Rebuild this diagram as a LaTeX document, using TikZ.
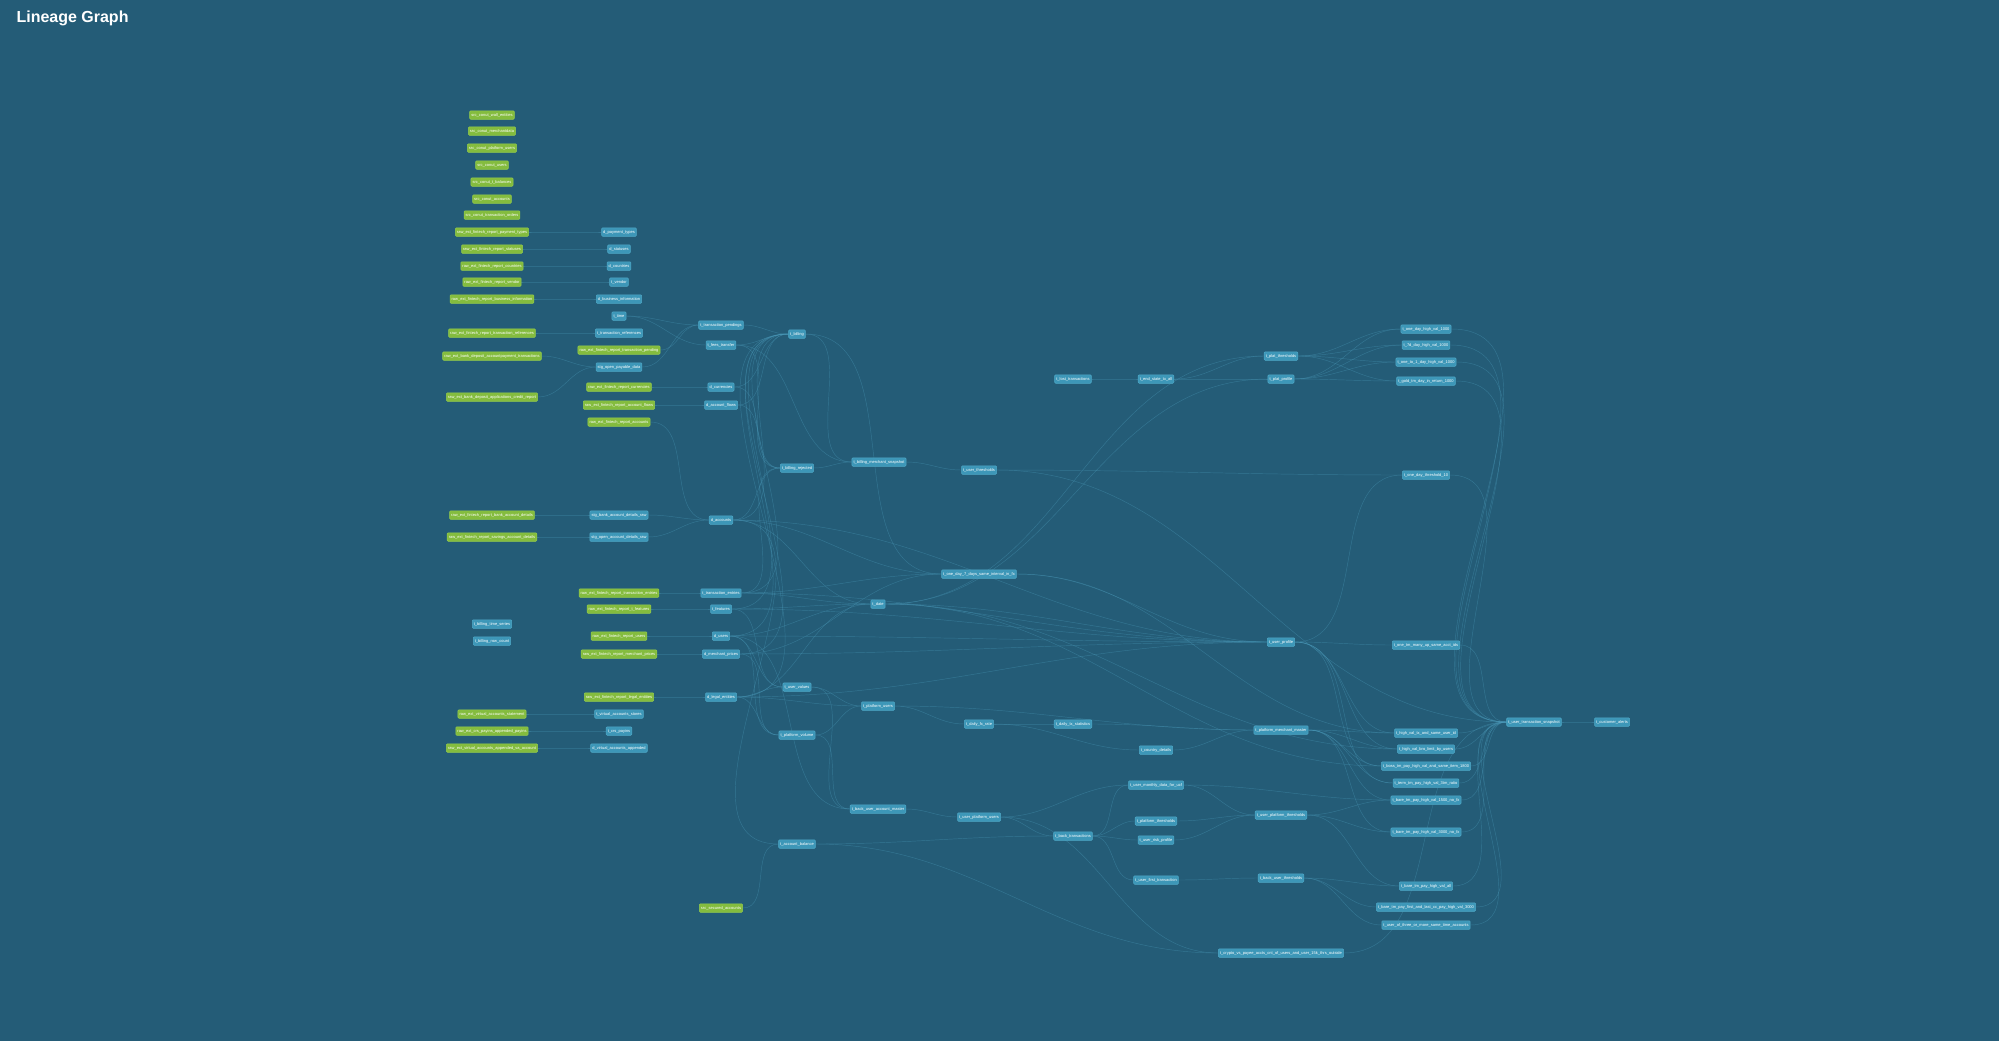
\documentclass[tikz,border=0pt]{standalone}
\usepackage{fontspec}
\newfontfamily\lgfont{Liberation Sans}
\definecolor{bgc}{HTML}{245C77}
\definecolor{nodeblue}{HTML}{3D97B8}
\definecolor{nodeblueb}{HTML}{4FA9C8}
\definecolor{nodegreen}{HTML}{84BC3E}
\definecolor{nodegreenb}{HTML}{96CE4E}
\definecolor{edgec}{HTML}{4C9BBB}
\newcommand\lgnodefont{\lgfont\fontsize{4}{4.5}\selectfont}
\newcommand\lglink[2]{\draw[lnk] (#1.east) to[out=0,in=180] (#2.west);}
\pgfdeclarelayer{bgl}
\pgfdeclarelayer{edl}
\pgfsetlayers{bgl,edl,main}
\tikzset{
  nd/.style={rounded corners=1pt, text=white, font=\lgnodefont, inner xsep=1.6pt, inner ysep=0pt,
    minimum height=8.5pt, text height=2.9pt, text depth=0.9pt, line width=0.5pt},
  bn/.style={nd, fill=nodeblue, draw=nodeblueb},
  gn/.style={nd, fill=nodegreen, draw=nodegreenb},
  lnk/.style={draw=edgec, line width=0.45pt, opacity=0.42},
}
\begin{document}
\begin{tikzpicture}[x=1pt,y=-1pt]
\begin{pgfonlayer}{bgl}
\fill[bgc] (0,0) rectangle (1999,1041);
\end{pgfonlayer}
\useasboundingbox (0,0) rectangle (1999,1041);
\node[anchor=west, text=white, font=\lgfont\bfseries\fontsize{16}{19}\selectfont] (title) at (13,18) {Lineage Graph};
% column A
\node[gn] (gA1) at (492,115) {src\_conut\_wall\_entities};
\node[gn] (gA2) at (492,131) {src\_conut\_merchantdata};
\node[gn] (gA3) at (492,148) {src\_conut\_platform\_users};
\node[gn] (gA4) at (492,165) {src\_conut\_users};
\node[gn] (gA5) at (492,182) {src\_conut\_t\_balances};
\node[gn] (gA6) at (492,199) {src\_conut\_accounts};
\node[gn] (gA7) at (492,215) {src\_conut\_transaction\_orders};
\node[gn] (gA8) at (492,232) {raw\_ext\_fintech\_report\_payment\_types};
\node[gn] (gA9) at (492,249) {raw\_ext\_fintech\_report\_statuses};
\node[gn] (gA10) at (492,266) {raw\_ext\_fintech\_report\_countries};
\node[gn] (gA11) at (492,282) {raw\_ext\_fintech\_report\_vendor};
\node[gn] (gA12) at (492,299) {raw\_ext\_fintech\_report\_business\_information};
\node[gn] (gA14) at (492,333) {raw\_ext\_fintech\_report\_transaction\_references};
\node[gn] (gA16) at (492,356) {raw\_ext\_bank\_deposit\_accountpayment\_transactions};
\node[gn] (gA19) at (492,397) {raw\_ext\_bank\_deposit\_applications\_credit\_report};
\node[gn] (gA22) at (492,515) {raw\_ext\_fintech\_report\_bank\_account\_details};
\node[gn] (gA23) at (492,537) {raw\_ext\_fintech\_report\_savings\_account\_details};
\node[bn] (bA26) at (492,624) {t\_billing\_time\_series};
\node[bn] (bA27) at (492,641) {t\_billing\_row\_count};
\node[gn] (gA31) at (492,714) {raw\_ext\_virtual\_accounts\_statement};
\node[gn] (gA32) at (492,731) {raw\_ext\_crs\_payins\_appended\_payins};
\node[gn] (gA33) at (492,748) {raw\_ext\_virtual\_accounts\_appended\_va\_account};
% column B
\node[bn] (bB8) at (619,232) {d\_payment\_types};
\node[bn] (bB9) at (619,249) {d\_statuses};
\node[bn] (bB10) at (619,266) {d\_countries};
\node[bn] (bB11) at (619,282) {t\_vendor};
\node[bn] (bB12) at (619,299) {d\_business\_information};
\node[bn] (bB13) at (619,316) {t\_time};
\node[bn] (bB14) at (619,333) {t\_transaction\_references};
\node[gn] (gB15) at (619,350) {raw\_ext\_fintech\_report\_transaction\_pending};
\node[bn] (bB17) at (619,367) {stg\_open\_payable\_data};
\node[gn] (gB18) at (619,387) {raw\_ext\_fintech\_report\_currencies};
\node[gn] (gB20) at (619,405) {raw\_ext\_fintech\_report\_account\_flows};
\node[gn] (gB21) at (619,422) {raw\_ext\_fintech\_report\_accounts};
\node[bn] (bB22) at (619,515) {stg\_bank\_account\_details\_raw};
\node[bn] (bB23) at (619,537) {stg\_open\_account\_details\_raw};
\node[gn] (gB24) at (619,593) {raw\_ext\_fintech\_report\_transaction\_entries};
\node[gn] (gB25) at (619,609) {raw\_ext\_fintech\_report\_t\_features};
\node[gn] (gB28) at (619,636) {raw\_ext\_fintech\_report\_users};
\node[gn] (gB29) at (619,654) {raw\_ext\_fintech\_report\_merchant\_prices};
\node[gn] (gB30) at (619,697) {raw\_ext\_fintech\_report\_legal\_entities};
\node[bn] (bB31) at (619,714) {t\_virtual\_accounts\_stores};
\node[bn] (bB32) at (619,731) {t\_crs\_payins};
\node[bn] (bB33) at (619,748) {d\_virtual\_accounts\_appended};
% column C
\node[bn] (bC1) at (721,325) {t\_transaction\_pendings};
\node[bn] (bC2) at (721,345) {t\_fees\_transfer};
\node[bn] (bC18) at (721,387) {d\_currencies};
\node[bn] (bC20) at (721,405) {d\_account\_flows};
\node[bn] (bC3) at (721,520) {d\_accounts};
\node[bn] (bC24) at (721,593) {t\_transaction\_entries};
\node[bn] (bC25) at (721,609) {t\_features};
\node[bn] (bC28) at (721,636) {d\_users};
\node[bn] (bC29) at (721,654) {d\_merchant\_prices};
\node[bn] (bC30) at (721,697) {d\_legal\_entities};
\node[gn] (gC34) at (721,908) {src\_secured\_accounts};
% column D
\node[bn] (bD1) at (797,334) {t\_billing};
\node[bn] (bD2) at (797,468) {t\_billing\_rejected};
\node[bn] (bD3) at (797,687) {t\_user\_values};
\node[bn] (bD4) at (797,735) {t\_platform\_volume};
\node[bn] (bD5) at (797,844) {t\_account\_balance};
% column E
\node[bn] (bE1) at (879,462) {t\_billing\_merchant\_snapshot};
\node[bn] (bE2) at (878,604) {t\_date};
\node[bn] (bE3) at (878,706) {t\_platform\_users};
\node[bn] (bE4) at (878,809) {t\_back\_user\_account\_master};
% column F
\node[bn] (bF1) at (979,470) {t\_user\_thresholds};
\node[bn] (bF2) at (979,574) {t\_one\_day\_7\_days\_same\_interval\_in\_fx};
\node[bn] (bF3) at (979,724) {t\_daily\_fx\_rate};
\node[bn] (bF4) at (979,817) {t\_user\_platform\_users};
% column G
\node[bn] (bG1) at (1073,379) {t\_lost\_transactions};
\node[bn] (bG2) at (1073,724) {t\_daily\_tx\_statistics};
\node[bn] (bG3) at (1073,836) {t\_back\_transactions};
% column H
\node[bn] (bH1) at (1156,379) {t\_end\_state\_tx\_all};
\node[bn] (bH2) at (1156,750) {t\_country\_details};
\node[bn] (bH3) at (1156,785) {t\_user\_monthly\_data\_for\_ucf};
\node[bn] (bH4) at (1156,821) {t\_platform\_thresholds};
\node[bn] (bH5) at (1156,840) {t\_user\_risk\_profile};
\node[bn] (bH6) at (1156,880) {t\_user\_first\_transaction};
% column I
\node[bn] (bI1) at (1281,356) {t\_plat\_thresholds};
\node[bn] (bI2) at (1281,379) {t\_plat\_profile};
\node[bn] (bI3) at (1281,642) {t\_user\_profile};
\node[bn] (bI4) at (1281,730) {t\_platform\_merchant\_master};
\node[bn] (bI5) at (1281,815) {t\_user\_platform\_thresholds};
\node[bn] (bI6) at (1281,878) {t\_back\_user\_thresholds};
\node[bn] (bI7) at (1281,953) {t\_crypto\_vs\_payee\_accts\_cnt\_of\_users\_and\_user\_15k\_thrs\_outside};
% column J
\node[bn] (bJ1) at (1426,329) {t\_one\_day\_high\_val\_1000};
\node[bn] (bJ2) at (1426,345) {t\_7d\_day\_high\_val\_1000};
\node[bn] (bJ3) at (1426,362) {t\_one\_to\_1\_day\_high\_val\_1000};
\node[bn] (bJ4) at (1426,381) {t\_gold\_tm\_day\_in\_return\_1000};
\node[bn] (bJ5) at (1426,475) {t\_one\_day\_threshold\_10};
\node[bn] (bJ6) at (1426,645) {t\_one\_tm\_many\_up\_same\_acct\_ids};
\node[bn] (bJ7) at (1426,733) {t\_high\_val\_tx\_and\_same\_user\_id};
\node[bn] (bJ8) at (1426,749) {t\_high\_val\_bro\_limit\_by\_users};
\node[bn] (bJ9) at (1426,766) {t\_boss\_tm\_pay\_high\_val\_and\_same\_item\_1800};
\node[bn] (bJ10) at (1426,783) {t\_term\_tm\_pay\_high\_val\_3tm\_ratio};
\node[bn] (bJ11) at (1426,800) {t\_bare\_tm\_pay\_high\_val\_1500\_no\_fx};
\node[bn] (bJ12) at (1426,832) {t\_bare\_tm\_pay\_high\_val\_3000\_no\_fx};
\node[bn] (bJ13) at (1426,886) {t\_bare\_tm\_pay\_high\_val\_all};
\node[bn] (bJ14) at (1426,907) {t\_bare\_tm\_pay\_first\_and\_last\_cc\_pay\_high\_val\_3000};
\node[bn] (bJ15) at (1426,925) {t\_user\_of\_three\_or\_more\_same\_time\_accounts};
% final
\node[bn] (bK1) at (1534,722) {t\_user\_transaction\_snapshot};
\node[bn] (bK2) at (1612,722) {t\_customer\_alerts};
\begin{pgfonlayer}{edl}
\lglink{gA8}{bB8}\lglink{gA9}{bB9}\lglink{gA10}{bB10}\lglink{gA11}{bB11}\lglink{gA12}{bB12}
\lglink{gA14}{bB14}\lglink{gA16}{bB17}\lglink{gA19}{bB17}\lglink{gB18}{bC18}\lglink{gB20}{bC20}
\lglink{gA22}{bB22}\lglink{gA23}{bB23}\lglink{gB24}{bC24}\lglink{gB25}{bC25}\lglink{gB28}{bC28}
\lglink{gB29}{bC29}\lglink{gB30}{bC30}\lglink{gA31}{bB31}\lglink{gA32}{bB32}\lglink{gA33}{bB33}
\lglink{bB13}{bC1}\lglink{bB13}{bC2}\lglink{gB15}{bC1}\lglink{bB17}{bC1}
\lglink{gB21}{bC3}\lglink{bB22}{bC3}\lglink{bB23}{bC3}
\lglink{bC1}{bD1}\lglink{bC2}{bD1}\lglink{bC18}{bD1}\lglink{bC20}{bD1}\lglink{bC3}{bD1}
\lglink{bC24}{bD1}\lglink{bC25}{bD1}\lglink{bC28}{bD1}\lglink{bC29}{bD1}\lglink{bC30}{bD1}
\lglink{bC2}{bD2}\lglink{bC18}{bD2}\lglink{bC20}{bD2}\lglink{bC3}{bD2}\lglink{bC24}{bD2}
\lglink{bD1}{bE1}\lglink{bD2}{bE1}\lglink{bC2}{bE1}\lglink{bE1}{bF1}
\lglink{bF1}{bJ5}\lglink{bF1}{bK1}
\lglink{bG1}{bH1}\lglink{bH1}{bI1}\lglink{bH1}{bI2}
\lglink{bI1}{bJ1}\lglink{bI1}{bJ2}\lglink{bI1}{bJ3}\lglink{bI1}{bJ4}
\lglink{bI2}{bJ1}\lglink{bI2}{bJ2}\lglink{bI2}{bJ3}\lglink{bI2}{bJ4}
\lglink{bE2}{bI1}\lglink{bE2}{bI2}
\lglink{bC3}{bE2}\lglink{bC24}{bE2}\lglink{bC25}{bE2}\lglink{bC28}{bE2}\lglink{bC30}{bE2}
\lglink{bC3}{bF2}\lglink{bC24}{bF2}\lglink{bC29}{bF2}\lglink{bD1}{bF2}
\lglink{bF2}{bI3}\lglink{bE2}{bI3}\lglink{bC24}{bI3}\lglink{bC25}{bI3}\lglink{bC28}{bI3}
\lglink{bC29}{bI3}\lglink{bC30}{bI3}\lglink{bC3}{bI3}
\lglink{bI3}{bJ5}\lglink{bI3}{bJ6}\lglink{bI3}{bJ7}\lglink{bI3}{bJ8}\lglink{bI3}{bJ9}\lglink{bI3}{bJ10}
\lglink{bC28}{bD3}\lglink{bC30}{bD3}\lglink{bC25}{bD3}
\lglink{bC30}{bD4}\lglink{bC29}{bD4}\lglink{bC28}{bD4}
\lglink{bD3}{bE3}\lglink{bD4}{bE3}\lglink{bC30}{bE3}
\lglink{bE3}{bF3}\lglink{bE3}{bI4}\lglink{bF3}{bG2}\lglink{bG2}{bI4}\lglink{bH2}{bI4}\lglink{bF3}{bH2}
\lglink{bD3}{bE4}\lglink{bC28}{bE4}\lglink{bD4}{bE4}
\lglink{gC34}{bD5}\lglink{bC3}{bD5}\lglink{bD5}{bG3}\lglink{bD5}{bI7}
\lglink{bE4}{bF4}\lglink{bF4}{bG3}\lglink{bF4}{bH3}\lglink{bF4}{bI7}
\lglink{bG3}{bH3}\lglink{bG3}{bH4}\lglink{bG3}{bH5}\lglink{bG3}{bH6}
\lglink{bH3}{bI5}\lglink{bH4}{bI5}\lglink{bH5}{bI5}\lglink{bH6}{bI6}\lglink{bH3}{bJ11}
\lglink{bI4}{bJ7}\lglink{bI4}{bJ8}\lglink{bI4}{bJ9}\lglink{bI4}{bJ10}\lglink{bI4}{bJ11}\lglink{bI4}{bJ12}
\lglink{bI5}{bJ11}\lglink{bI5}{bJ12}\lglink{bI5}{bJ13}
\lglink{bI6}{bJ13}\lglink{bI6}{bJ14}\lglink{bI6}{bJ15}
\lglink{bF2}{bJ7}\lglink{bE2}{bJ8}\lglink{bE2}{bJ9}
\lglink{bI7}{bK1}
\lglink{bJ1}{bK1}\lglink{bJ2}{bK1}\lglink{bJ3}{bK1}\lglink{bJ4}{bK1}\lglink{bJ5}{bK1}
\lglink{bJ6}{bK1}\lglink{bJ7}{bK1}\lglink{bJ8}{bK1}\lglink{bJ9}{bK1}\lglink{bJ10}{bK1}
\lglink{bJ11}{bK1}\lglink{bJ12}{bK1}\lglink{bJ13}{bK1}\lglink{bJ14}{bK1}\lglink{bJ15}{bK1}
\lglink{bK1}{bK2}
\end{pgfonlayer}
\end{tikzpicture}
\end{document}
